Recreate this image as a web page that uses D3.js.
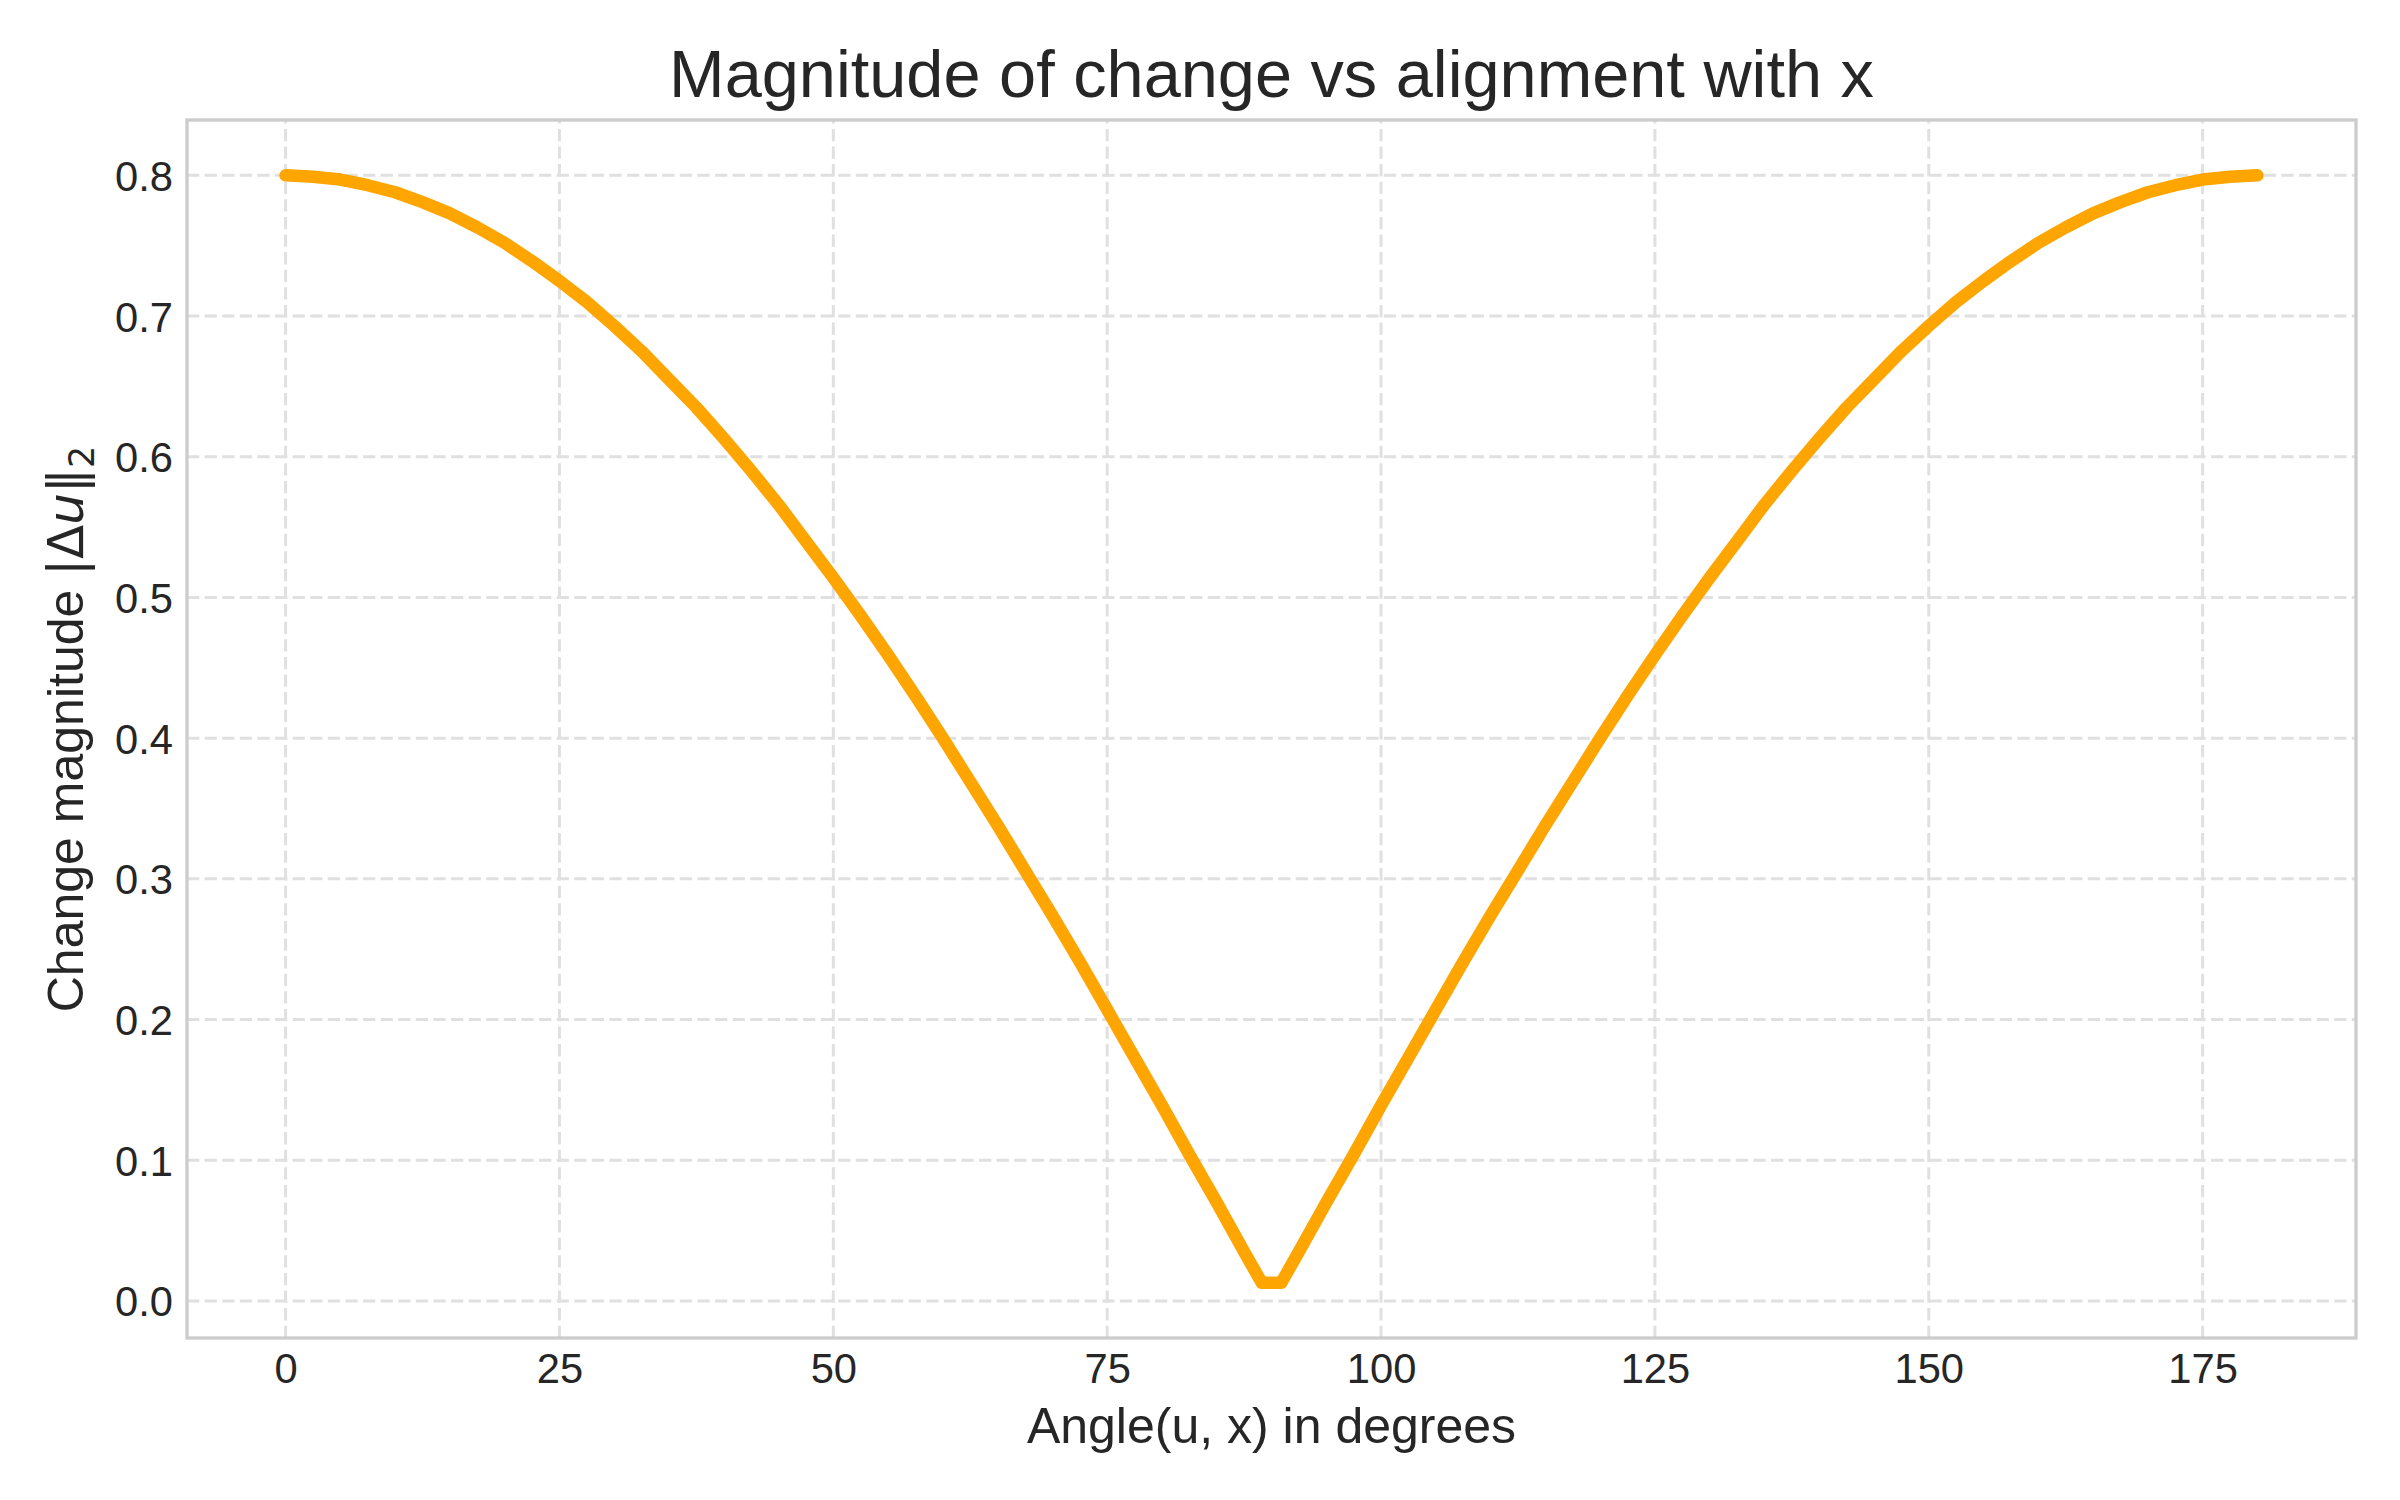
<!DOCTYPE html>
<html>
<head>
<meta charset="utf-8">
<script src="https://cdn.jsdelivr.net/npm/d3@7"></script>
<style>
  body { margin: 0; background: #fff; }
  svg { display: block; }
</style>
</head>
<body>
<svg id="chart"></svg>
<script>
// values
const angles = [0, 2.5, 5, 7.5, 10, 12.5, 15, 17.5, 20, 22.5, 25, 27.5, 30, 32.5, 35, 37.5, 40, 42.5,
  45, 47.5, 50, 52.5, 55, 57.5, 60, 62.5, 65, 67.5, 70, 72.5, 75, 77.5, 80, 82.5, 85, 87.5, 89.1,
  90.9, 92.5, 95, 97.5, 100, 102.5, 105, 107.5, 110, 112.5, 115, 117.5, 120, 122.5, 125, 127.5,
  130, 132.5, 135, 137.5, 140, 142.5, 145, 147.5, 150, 152.5, 155, 157.5, 160, 162.5, 165, 167.5,
  170, 172.5, 175, 177.5, 180];
const magnitudes = [0.800, 0.799, 0.797, 0.793, 0.788, 0.781, 0.773, 0.763, 0.752, 0.739, 0.725,
  0.710, 0.693, 0.675, 0.655, 0.635, 0.613, 0.590, 0.566, 0.540, 0.514, 0.487, 0.459, 0.430,
  0.400, 0.369, 0.338, 0.306, 0.274, 0.241, 0.207, 0.173, 0.139, 0.104, 0.070, 0.035, 0.013,
  0.013, 0.035, 0.070, 0.104, 0.139, 0.173, 0.207, 0.241, 0.274, 0.306, 0.338, 0.369, 0.400,
  0.430, 0.459, 0.487, 0.514, 0.540, 0.566, 0.590, 0.613, 0.635, 0.655, 0.675, 0.693, 0.710,
  0.725, 0.739, 0.752, 0.763, 0.773, 0.781, 0.788, 0.793, 0.797, 0.799, 0.800];
const angleTicks = [0, 25, 50, 75, 100, 125, 150, 175];
const magnitudeTicks = [0.0, 0.1, 0.2, 0.3, 0.4, 0.5, 0.6, 0.7, 0.8];

const width = 2400;
const height = 1500;
const margin = { top: 120, right: 44, bottom: 162, left: 187 };
const font = "'Liberation Sans', Arial, sans-serif";
const textColor = "#262626";

const svg = d3.select("#chart").attr("width", width).attr("height", height);

const data = angles.map((a, i) => ({ angle: a, value: magnitudes[i] }));

// matplotlib-style 5% padding around the data
const pad = (ext) => {
  const d = (ext[1] - ext[0]) * 0.05;
  return [ext[0] - d, ext[1] + d];
};

const xScale = d3.scaleLinear()
  .domain(pad(d3.extent(angles)))
  .range([margin.left, width - margin.right]);

const yScale = d3.scaleLinear()
  .domain(pad(d3.extent(magnitudes)))
  .range([height - margin.bottom, margin.top]);

const x0 = margin.left, x1 = width - margin.right;
const y0 = height - margin.bottom, y1 = margin.top;

// grid
const grid = svg.append("g")
  .attr("stroke", "#e0e0e0")
  .attr("stroke-width", 3)
  .attr("stroke-dasharray", "12.3,5.3");

grid.selectAll(".vgrid")
  .data(angleTicks)
  .enter()
  .append("line")
  .attr("x1", (d) => xScale(d)).attr("x2", (d) => xScale(d))
  .attr("y1", y0).attr("y2", y1);

grid.selectAll(".hgrid")
  .data(magnitudeTicks)
  .enter()
  .append("line")
  .attr("x1", x0).attr("x2", x1)
  .attr("y1", (d) => yScale(d)).attr("y2", (d) => yScale(d));

// axes (labels only, no tick marks)
const xAxis = svg.append("g")
  .attr("transform", `translate(0,${y0})`)
  .call(d3.axisBottom(xScale).tickValues(angleTicks).tickSize(0).tickPadding(45).tickFormat(d3.format("d")));

const yAxis = svg.append("g")
  .attr("transform", `translate(${x0},0)`)
  .call(d3.axisLeft(yScale).tickValues(magnitudeTicks).tickSize(0).tickPadding(14).tickFormat(d3.format(".1f")));

[xAxis, yAxis].forEach((ax) => {
  ax.select(".domain").remove();
  ax.selectAll("text")
    .attr("font-family", font)
    .attr("font-size", 41.7)
    .attr("fill", textColor);
});
xAxis.selectAll("text").attr("dy", 0);
yAxis.selectAll("text").attr("dy", "0.36em");

// the curve
const line = d3.line()
  .x((d) => xScale(d.angle))
  .y((d) => yScale(d.value));

svg.append("path")
  .datum(data)
  .attr("fill", "none")
  .attr("stroke", "#FFA500")
  .attr("stroke-width", 12.5)
  .attr("stroke-linecap", "round")
  .attr("stroke-linejoin", "round")
  .attr("d", line);

// frame
svg.append("rect")
  .attr("x", x0).attr("y", y1)
  .attr("width", x1 - x0).attr("height", y0 - y1)
  .attr("fill", "none")
  .attr("stroke", "#cccccc")
  .attr("stroke-width", 3.3);

// title
svg.append("text")
  .attr("x", (x0 + x1) / 2)
  .attr("y", 97)
  .attr("text-anchor", "middle")
  .attr("font-family", font)
  .attr("font-size", 66.7)
  .attr("fill", textColor)
  .text("Magnitude of change vs alignment with x");

// x label
svg.append("text")
  .attr("x", (x0 + x1) / 2)
  .attr("y", 1443)
  .attr("text-anchor", "middle")
  .attr("font-family", font)
  .attr("font-size", 50)
  .attr("fill", textColor)
  .text("Angle(u, x) in degrees");

// y label with math part
const yLabel = svg.append("text")
  .attr("transform", `translate(83,${(y0 + y1) / 2}) rotate(-90)`)
  .attr("text-anchor", "middle")
  .attr("font-family", font)
  .attr("font-size", 50)
  .attr("fill", textColor);

yLabel.append("tspan").text("Change magnitude ");
yLabel.append("tspan").attr("font-family", "'DejaVu Sans', sans-serif").text("|Δ");
yLabel.append("tspan").attr("font-family", "'DejaVu Sans', sans-serif").attr("font-style", "italic").text("u");
yLabel.append("tspan").attr("font-family", "'DejaVu Sans', sans-serif").text("‖");
yLabel.append("tspan").attr("font-family", "'DejaVu Sans', sans-serif")
  .attr("font-size", 35).attr("dy", 11).text("2");
</script>
</body>
</html>
